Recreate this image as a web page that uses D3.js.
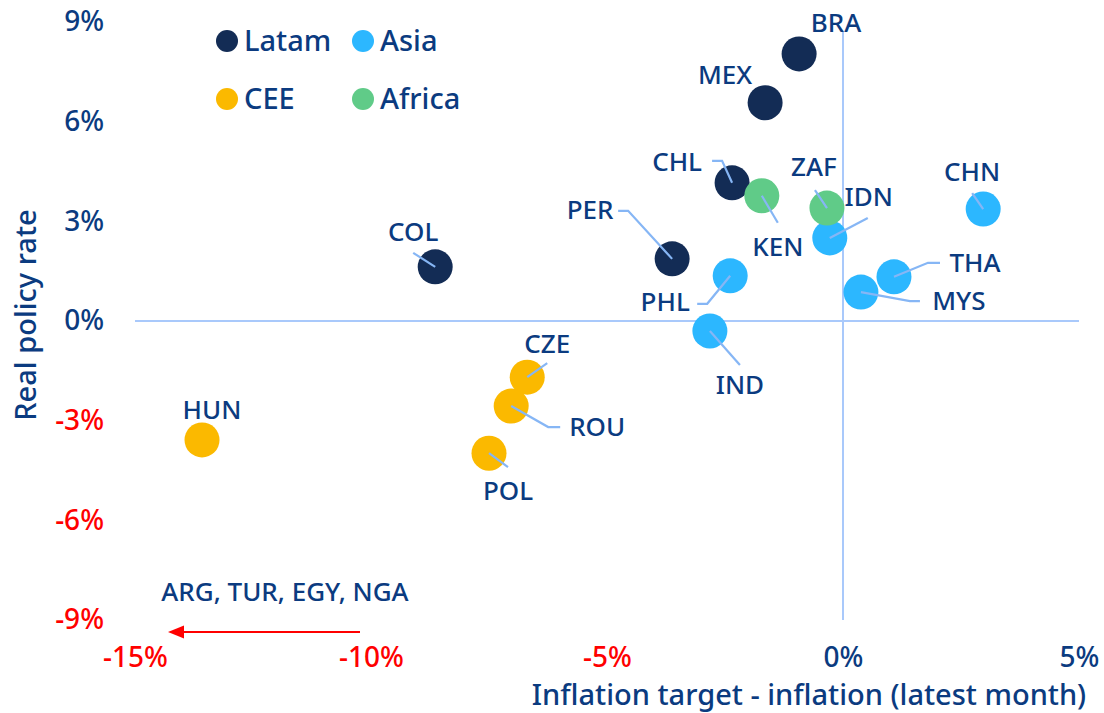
<!DOCTYPE html>
<html>
<head>
<meta charset="utf-8">
<script src="https://cdn.jsdelivr.net/npm/d3@7"></script>
<style>
  body { margin: 0; background: #fff; }
  svg text { font-family: "Noto Sans", sans-serif; font-weight: 500; }
</style>
</head>
<body>
<div id="chart"></div>
<script>
// data
var countries = ["BRA","MEX","CHL","PER","COL","CHN","IDN","PHL","IND","THA","MYS","HUN","CZE","ROU","POL","KEN","ZAF"];
var regions   = ["Latam","Latam","Latam","Latam","Latam","Asia","Asia","Asia","Asia","Asia","Asia","CEE","CEE","CEE","CEE","Africa","Africa"];
var gapValues = [-0.93,-1.65,-2.35,-3.62,-8.64,2.97,-0.28,-2.39,-2.82,1.08,0.38,-13.58,-6.69,-7.03,-7.5,-1.72,-0.34];
var rateValues = [8.04,6.57,4.16,1.87,1.63,3.37,2.5,1.36,-0.3,1.33,0.87,-3.58,-1.69,-2.56,-3.98,3.77,3.4];
var legendItems = ["Latam","Asia","CEE","Africa"];
var xTicks = [-15,-10,-5,0,5];
var yTicks = [-9,-6,-3,0,3,6,9];

var colors = {Latam:"#132c55", Asia:"#2cb7ff", CEE:"#fbb900", Africa:"#60cb88"};
var textBlue = "#0b3b80";
var red = "#ff0000";
var lineBlue = "#a9c9fb";
var leaderBlue = "#86b6f5";

// label placement (pixel offsets from the dot) and leader elbows
var labelLayout = {
  BRA:{dx:37,dy:-31}, MEX:{dx:-40,dy:-28},
  CHL:{dx:-55,dy:-21,path:[[0,0],[-10,-22],[-20,-22]]},
  PER:{dx:-82,dy:-49,path:[[0,0],[-44,-48],[-54,-48]]},
  COL:{dx:-22,dy:-35,path:[[0,0],[-22,-14]]},
  CHN:{dx:-11,dy:-37,path:[[0,0],[-11,-16]]},
  IDN:{dx:39,dy:-41,path:[[0,0],[38,-20]]},
  THA:{dx:81,dy:-14,path:[[0,0],[34,-14],[46,-14]]},
  MYS:{dx:98,dy:9,path:[[0,0],[49,9],[59,9]]},
  PHL:{dx:-65,dy:26,path:[[0,0],[-23,28],[-33,28]]},
  IND:{dx:30,dy:54,path:[[0,0],[30,34]]},
  KEN:{dx:16,dy:51,path:[[0,0],[16,27]]},
  ZAF:{dx:-13,dy:-41,path:[[0,0],[-12,-18]]},
  CZE:{dx:20,dy:-34,path:[[0,0],[20,-14]]},
  ROU:{dx:86,dy:21,path:[[0,0],[37,21],[49,21]]},
  POL:{dx:19,dy:37,path:[[0,0],[19,14]]},
  HUN:{dx:10,dy:-30}
};

var W = 1104, H = 713;
var svg = d3.select("#chart").append("svg").attr("width", W).attr("height", H);

var x = d3.scaleLinear().domain([-15,5]).range([135,1079]);
var y = d3.scaleLinear().domain([-9,9]).range([620,22]);

var data = countries.map(function(c,i){
  return {name:c, region:regions[i], gx:gapValues[i], ry:rateValues[i]};
});

// zero lines
svg.append("line")
  .attr("x1", x(-15)).attr("x2", x(5))
  .attr("y1", y(0)).attr("y2", y(0))
  .attr("stroke", lineBlue).attr("stroke-width", 2);
svg.append("line")
  .attr("x1", x(0)).attr("x2", x(0))
  .attr("y1", y(8.7)).attr("y2", y(-9))
  .attr("stroke", lineBlue).attr("stroke-width", 2);

// axes
var xAxis = svg.append("g")
  .attr("transform", "translate(0,647)")
  .call(d3.axisBottom(x).tickValues(xTicks).tickSize(0).tickFormat(function(d){ return d + "%"; }));
xAxis.select(".domain").remove();
xAxis.selectAll("text")
  .attr("font-size", 28).attr("dy", "0.71em").attr("y", 0)
  .attr("fill", function(d){ return d < 0 ? red : textBlue; })
  .style("font-family", "'Noto Sans', sans-serif");

var yAxis = svg.append("g")
  .attr("transform", "translate(104,0)")
  .call(d3.axisLeft(y).tickValues(yTicks).tickSize(0).tickFormat(function(d){ return d + "%"; }));
yAxis.select(".domain").remove();
yAxis.selectAll("text")
  .attr("font-size", 28).attr("x", 0)
  .attr("fill", function(d){ return d < 0 ? red : textBlue; })
  .style("font-family", "'Noto Sans', sans-serif");

// axis titles
svg.append("text")
  .attr("x", 809).attr("y", 705)
  .attr("text-anchor", "middle").attr("font-size", 29).attr("fill", textBlue)
  .text("Inflation target - inflation (latest month)");
svg.append("text")
  .attr("transform", "translate(36,315) rotate(-90)")
  .attr("text-anchor", "middle").attr("font-size", 29).attr("fill", textBlue)
  .text("Real policy rate");

// dots, drawn by region order so Africa sits on top
var order = ["Latam","Asia","CEE","Africa"];
var sorted = data.slice().sort(function(a,b){ return order.indexOf(a.region) - order.indexOf(b.region); });

svg.append("g").selectAll("circle")
  .data(sorted)
  .enter()
  .append("circle")
  .attr("cx", function(d){ return x(d.gx); })
  .attr("cy", function(d){ return y(d.ry); })
  .attr("r", 17.5)
  .attr("fill", function(d){ return colors[d.region]; });

// leaders
var lineGen = d3.line();
svg.append("g").selectAll("path")
  .data(data.filter(function(d){ return labelLayout[d.name].path; }))
  .enter()
  .append("path")
  .attr("d", function(d){
    var cx = x(d.gx), cy = y(d.ry);
    return lineGen(labelLayout[d.name].path.map(function(p){ return [cx+p[0], cy+p[1]]; }));
  })
  .attr("fill", "none")
  .attr("stroke", leaderBlue)
  .attr("stroke-width", 2.2);

// country labels
svg.append("g").selectAll("text")
  .data(data)
  .enter()
  .append("text")
  .attr("x", function(d){ return x(d.gx) + labelLayout[d.name].dx; })
  .attr("y", function(d){ return y(d.ry) + labelLayout[d.name].dy; })
  .attr("dy", "0.36em")
  .attr("text-anchor", "middle")
  .attr("font-size", 26)
  .attr("fill", textBlue)
  .text(function(d){ return d.name; });

// legend
var legend = svg.append("g").selectAll("g")
  .data(legendItems)
  .enter()
  .append("g")
  .attr("transform", function(d,i){ return "translate(" + (227 + (i%2)*136) + "," + (41 + Math.floor(i/2)*58) + ")"; });
legend.append("circle").attr("r", 11).attr("fill", function(d){ return colors[d]; });
legend.append("text")
  .attr("x", 17).attr("dy", "0.36em")
  .attr("font-size", 29).attr("fill", textBlue)
  .text(function(d){ return d; });

// off-chart note with arrow
svg.append("line")
  .attr("x1", 360).attr("x2", 182)
  .attr("y1", 632).attr("y2", 632)
  .attr("stroke", red).attr("stroke-width", 2.2);
svg.append("path")
  .attr("d", "M168,632 L184,625.5 L184,638.5 Z")
  .attr("fill", red);
svg.append("text")
  .attr("x", 285).attr("y", 592).attr("dy", "0.36em")
  .attr("text-anchor", "middle").attr("font-size", 26).attr("fill", textBlue)
  .text("ARG, TUR, EGY, NGA");
</script>
</body>
</html>
